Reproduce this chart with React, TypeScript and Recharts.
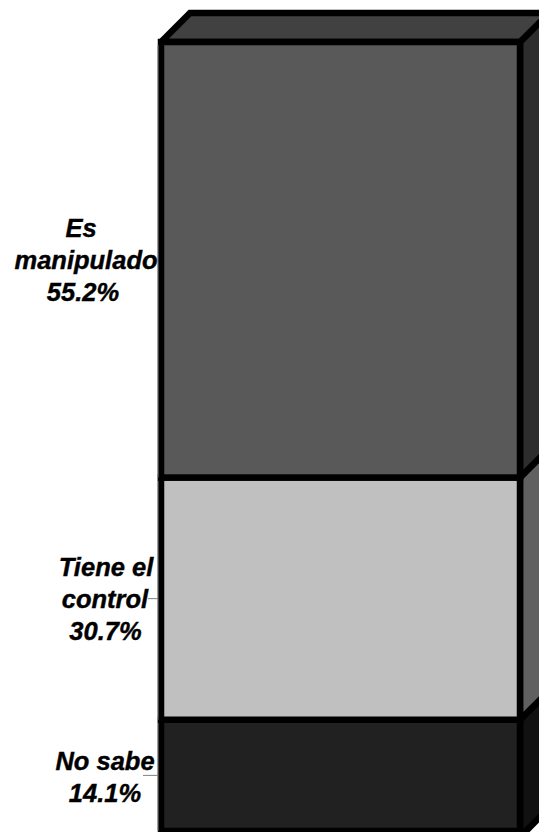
import { BarChart, Bar, XAxis, YAxis, LabelList } from "recharts"

const categories = ["No sabe", "Tiene el control", "Es manipulado"]
const labelLines = [
  ["No sabe", "14.1%"],
  ["Tiene el", "control", "30.7%"],
  ["Es", "manipulado", "55.2%"],
]
const values = [14.1, 30.7, 55.2]
const frontFills = ["#212121", "#c0c0c0", "#595959"]
const sideFills = ["#111111", "#606060", "#2d2d2d"]
const topFill = "#414141"

const row: Record<string, string | number> = { name: "total" }
categories.forEach((c, i) => {
  row[c] = values[i]
})
const data = [row]

const DEPTH = 29
const EDGE = 6.5

function Block3D(props: any) {
  const { x, y, width, height, index } = props
  const right = x + width
  const bottom = y + height
  // the lowest side face runs a little past the front edge in the original
  const sag = index === 0 ? 6 : 0
  return (
    <g stroke="#000" strokeWidth={EDGE} strokeLinejoin="miter" strokeMiterlimit={1.5}>
      <polygon
        points={`${right},${y} ${right + DEPTH},${y - DEPTH} ${right + DEPTH},${bottom - DEPTH + sag} ${right},${bottom + sag}`}
        fill={sideFills[index]}
      />
      {index === categories.length - 1 && (
        <polygon
          points={`${x},${y} ${x + DEPTH},${y - DEPTH} ${right + DEPTH},${y - DEPTH} ${right},${y}`}
          fill={topFill}
        />
      )}
      <rect x={x} y={y} width={width} height={height} fill={frontFills[index]} />
      <line x1={x - 3} x2={x - 3} y1={y + 3} y2={bottom} stroke="#808080" strokeWidth={1} />
    </g>
  )
}

const lineCenters = [
  [105, 105],
  [106, 105, 105.5],
  [81, 86, 83],
]
const leaderLengths = [15, 10, 0]

function SliceLabel(props: any) {
  const { x, y, height, index } = props
  const lines = labelLines[index]
  const mid = y + height / 2
  const start = lines.length === 3 ? mid - 23 : mid - 5.5
  return (
    <g>
      {leaderLengths[index] > 0 && (
        <line
          x1={x - 3 - leaderLengths[index]}
          x2={x - 3}
          y1={mid}
          y2={mid}
          stroke="#808080"
          strokeWidth={1}
        />
      )}
      {lines.map((line, i) => (
        <text
          key={line}
          x={lineCenters[index][i]}
          y={start + i * 32}
          textAnchor="middle"
          fontFamily="Liberation Sans"
          fontWeight="bold"
          fontStyle="italic"
          fontSize={25.5}
          fill="#000"
          stroke="#000"
          strokeWidth={0.4}
        >
          {line}
        </text>
      ))}
    </g>
  )
}

export default function App() {
  return (
    <div style={{ position: "absolute", left: 0, top: 0, width: 539, height: 832 }}>
      <BarChart
        width={539}
        height={832}
        data={data}
        margin={{ top: 42, right: 19, bottom: 1, left: 161 }}
        barCategoryGap={0}
      >
        <XAxis dataKey="name" hide />
        <YAxis hide domain={[0, 100]} />
        {categories.map((c, i) => (
          <Bar
            key={c}
            dataKey={c}
            stackId="a"
            isAnimationActive={false}
            shape={(p: any) => <Block3D {...p} index={i} />}
          >
            <LabelList dataKey={c} content={(p: any) => <SliceLabel {...p} index={i} />} />
          </Bar>
        ))}
      </BarChart>
    </div>
  )
}
